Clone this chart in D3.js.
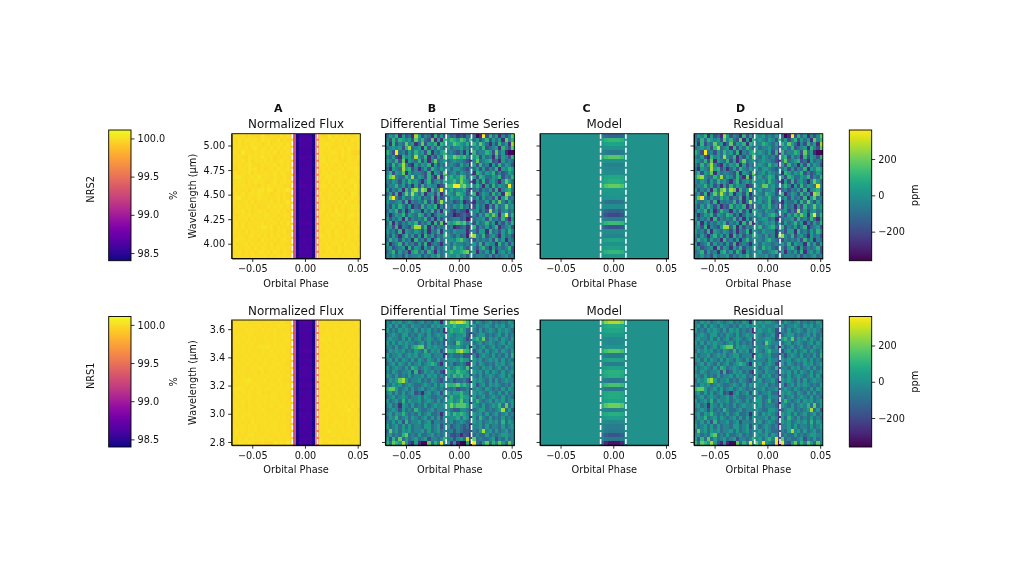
<!DOCTYPE html>
<html><head><meta charset="utf-8">
<style>html,body{margin:0;background:#fff}svg{display:block;filter:blur(.5px)}text{font-family:"DejaVu Sans";fill:#111}</style>
<script src="https://cdn.jsdelivr.net/npm/d3@7"></script></head><body><svg id="c" width="1024" height="576"></svg>
<script>
// Residual levels: one digit per cell, decoded through levelPpm
const levelPpm = [-345,-265,-185,-105,-35,35,105,185,260,350];
const residNRS2 = [
"3546152318 5243162525 4534353301 9263514247","4263654527 4632715164 5435426352 4625351746",
"5162437451 3725461654 4654352647 5314263518","3454526834 5162536435 3445342453 6234516427",
"6429342536 4526143564 5435261634 4652735100","4352164538 4361425374 3543422562 5341625426",
"5436271543 6251473453 4544321473 4562315343","4263584215 3546152434 5436451526 3415263542",
"3154385624 1352643545 3554324352 5243615465","4625471534 4326154273 4535434165 3546242354",
"5784336483 5426317154 5346524526 5335462436","4354253645 3146245364 4536432152 6245314753",
"3446352415 2635441235 4774534464 1526354394","5243516378 4871635944 5344521342 4352614563",
"3526147485 3614526145 4365423613 5426351872","4794253364 5243615233 5446335352 5342615734",
"5334526143 4362514844 5346233143 3526374253","4253642513 2635461424 3546341253 4152634745",
"3546251364 4153625165 4354425452 4283524534","4135462543 6524135444 5345642425 3647516936",
"5243516243 4362515243 4553411344 5263426315","3615243546 2435162715 3454525253 4635142536",
"4526143258 8361524344 6345632624 3524613452","5342615435 4251436154 3544413425 5163425364",
"4253146352 5163524365 4353417843 6245315342","3645253416 3425146344 4356432243 4352635143",
"5134625342 5261343145 3544343536 2544163525","4523451625 4153624354 3645324425 6315243462",
"3462534156 3526415344 5334562514 3526145352","4353425344 5243546345 4453425344 4352434534"];
const residNRS1 = [
"4354534543 4534354154 5455432354 3453434354","4535354354 4343545455 4544453534 4543545345",
"5343545435 3545343414 5445422435 3454354543","3454355343 5435345445 4344521345 5343453534",
"4544353534 5345434525 4455423564 7354535435","5353545443 4535343424 4375443345 3454345354",
"4435345356 7735454435 4454351534 5345343544","3545453435 4363545245 4356443245 3534535435",
"5344534545 3455344414 5445332424 5435343536","4535354353 5435435344 4435442545 3454535343",
"3453543534 5345653154 5345421535 4343545345","5345435365 3454344445 3454362443 5453453534",
"4354344526 2354534215 4354431545 3535435345","5435343534 4535453435 3545342435 3454345353",
"3545785344 5343543244 5344531545 4353534544","4354534543 3454353545 4453432524 5354543435",
"6775345353 4534543434 4534452454 3543435354","4535353452 3145345255 3445331545 4354353534",
"3453454344 5354334434 5335442534 5345435343","5345363544 5345435345 5346341464 3453545345",
"4534154353 4353454454 5344431543 5345463735","3454253436 4334534445 4335542345 5343458352",
"4535464343 5345334145 3545431545 3534534534","3546345354 3453535254 4453541536 4353435343",
"4353526344 5345244344 5345432545 3454536354","5345353534 4355345245 3454341445 3534435345",
"3745354534 4535345344 5354332435 8453534534","4534367343 5334534345 4453541343 3534345544",
"5263735345 3452443464 5356492734 3345243534","6376585215 1007364947 5954390932 5736475374"];
// Model depth per wavelength row (ppm)
const modelNRS2 = [-130,120,60,10,-70,170,0,-50,-20,-10,70,90,190,30,20,10,-90,-10,-140,-200,-60,130,-180,-10,-40,60,0,40,120,20];
const modelNRS1 = [270,90,70,30,-20,-20,10,170,-70,60,-60,50,100,90,-70,150,-80,80,80,60,200,-50,90,40,-20,-60,-70,-170,-80,-320];
// Share of the model in each time column, cols 19-26
const modelShape = {19:.5,20:.85,21:1,22:1,23:1,24:1,25:.85,26:.25};
// Transit curve per time column (% flux); all other columns sit at 100.0
const transitColumns = {18:99.95,19:99.3,20:98.45,21:98.6,22:98.6,23:98.6,24:98.6,25:98.45,26:99.6};
const panelLetters = ["A","B","C","D"];
const panelTitles = ["Normalized Flux","Differential Time Series","Model","Residual"];
const phaseTicks = [-0.05,0,0.05];
const waveTicksNRS2 = [4,4.25,4.5,4.75,5];
const waveTicksNRS1 = [2.8,3,3.2,3.4,3.6];
const fluxTicks = [98.5,99,99.5,100];
const ppmTicks = [-200,0,200];
const ingress = [-0.012,0.012];

const levels = rows => rows.map(s => Array.from(s.replace(/ /g,""), d => levelPpm[+d]));
const svg = d3.select("#c");
const phaseDomain = [-0.0695,0.0525], nCols = 40, nRows = 30;
const panelX = [[231.7,360.3],[385.4,514.3],[540,668.6],[694,822.8]];
const viridis = d3.scaleSequential(d3.interpolateViridis).domain([-360,360]);
const plasma = d3.scaleSequential(d3.interpolatePlasma).domain([98.4,100.11]);

function styleAxis(g){g.selectAll("path").attr("stroke","#000").attr("stroke-width",.8);
  g.selectAll("line").attr("stroke","#000").attr("stroke-width",.8);
  g.selectAll("text").attr("font-size",9.7).attr("font-family","DejaVu Sans").attr("fill","#111");}

function row(cfg){
  const resid = levels(cfg.resid);
  const model = resid.map((r,i)=>r.map((_,c)=>cfg.model[i]*(modelShape[c]||0)));
  const diff = resid.map((r,i)=>r.map((v,c)=>v+model[i][c]));
  const flux = diff.map(r=>r.map((v,c)=>(transitColumns[c]??100)+v/1e4));
  const grids = [flux,diff,model,resid];
  panelX.forEach(([x0,x1],p)=>{
    const g = svg.append("g");
    const x = d3.scaleLinear().domain(phaseDomain).range([x0,x1]);
    const y = d3.scaleLinear().domain(cfg.wave).range([cfg.y1,cfg.y0]);
    const bx = d3.scaleBand().domain(d3.range(nCols)).range([x0,x1]);
    const by = d3.scaleBand().domain(d3.range(nRows)).range([cfg.y0,cfg.y1]);
    const color = p===0?plasma:viridis;
    g.selectAll("g.r").data(grids[p]).join("g").attr("class","r").attr("transform",(_,i)=>`translate(0,${by(i)})`)
      .selectAll("rect").data(r=>r).join("rect").attr("x",(_,c)=>bx(c)).attr("width",bx.bandwidth()+.5)
      .attr("height",by.bandwidth()+.5).attr("shape-rendering","crispEdges").attr("fill",v=>color(v));
    g.selectAll("line.t").data(ingress).join("line").attr("class","t")
      .attr("x1",x).attr("x2",x).attr("y1",cfg.y0).attr("y2",cfg.y1)
      .attr("stroke","#fff").attr("stroke-width",1.6).attr("stroke-dasharray","5 2");
    g.append("g").attr("transform",`translate(0,${cfg.y1})`)
      .call(d3.axisBottom(x).tickValues(phaseTicks).tickFormat(d3.format(".2f")).tickSize(3.5).tickPadding(3).tickSizeOuter(0)).call(styleAxis);
    g.append("g").attr("transform",`translate(${x0},0)`)
      .call(d3.axisLeft(y).tickValues(cfg.waveTicks).tickFormat(p===0?d3.format(cfg.waveFmt):"").tickSize(3.5).tickPadding(3).tickSizeOuter(0)).call(styleAxis);
    g.append("rect").attr("x",x0).attr("y",cfg.y0).attr("width",x1-x0).attr("height",cfg.y1-cfg.y0)
      .attr("fill","none").attr("stroke","#000").attr("stroke-width",.9);
    const cx=(x0+x1)/2;
    g.append("text").attr("x",cx).attr("y",cfg.y1+28).attr("text-anchor","middle").attr("font-size",9.8).text("Orbital Phase");
    g.append("text").attr("x",cx).attr("y",cfg.y0-5.5).attr("text-anchor","middle").attr("font-size",11.9).text(panelTitles[p]);
    if(cfg.letters) g.append("text").attr("x",x0+46.5).attr("y",cfg.y0-22).attr("text-anchor","middle").attr("font-size",11).attr("font-weight","bold").text(panelLetters[p]);
    if(p===0) g.append("text").attr("transform",`translate(195.5,${(cfg.y0+cfg.y1)/2}) rotate(-90)`).attr("text-anchor","middle").attr("font-size",9.8).text("Wavelength (\u00b5m)");
  });
  colorbar(108.7,131,cfg.cb0,cfg.cb1,[98.4,100.11],fluxTicks,d3.format(".1f"),d3.interpolatePlasma);
  colorbar(849.3,871.7,cfg.cb0,cfg.cb1,[-360,360],ppmTicks,d3.format("d"),d3.interpolateViridis);
  const mid=(cfg.cb0+cfg.cb1)/2;
  svg.append("text").attr("transform",`translate(94,${mid-6}) rotate(-90)`).attr("text-anchor","middle").attr("font-size",9.8).text(cfg.name);
  svg.append("text").attr("transform",`translate(177,${mid}) rotate(-90)`).attr("text-anchor","middle").attr("font-size",9.8).text("%");
  svg.append("text").attr("transform",`translate(917.5,${mid}) rotate(-90)`).attr("text-anchor","middle").attr("font-size",9.8).text("ppm");
}
let gid=0;
function colorbar(x0,x1,y0,y1,dom,ticks,fmt,interp){
  const id="g"+(gid++);
  const lg=svg.append("defs").append("linearGradient").attr("id",id).attr("x1",0).attr("x2",0).attr("y1",1).attr("y2",0);
  d3.range(0,1.001,.05).forEach(t=>lg.append("stop").attr("offset",t).attr("stop-color",interp(t)));
  svg.append("rect").attr("x",x0).attr("y",y0).attr("width",x1-x0).attr("height",y1-y0).attr("fill",`url(#${id})`).attr("stroke","#000").attr("stroke-width",.9);
  const y=d3.scaleLinear().domain(dom).range([y1,y0]);
  svg.append("g").attr("transform",`translate(${x1},0)`).call(d3.axisRight(y).tickValues(ticks).tickFormat(fmt).tickSize(3.5).tickPadding(3)).call(g=>g.select("path").remove()).call(styleAxis);
}
row({name:"NRS2",resid:residNRS2,model:modelNRS2,wave:[3.85,5.12],waveTicks:waveTicksNRS2,waveFmt:".2f",y0:133.7,y1:258.5,cb0:130,cb1:260.7,letters:true});
row({name:"NRS1",resid:residNRS1,model:modelNRS1,wave:[2.777,3.665],waveTicks:waveTicksNRS1,waveFmt:".1f",y0:320,y1:445.2,cb0:316.5,cb1:447,letters:false});
</script></body></html>
